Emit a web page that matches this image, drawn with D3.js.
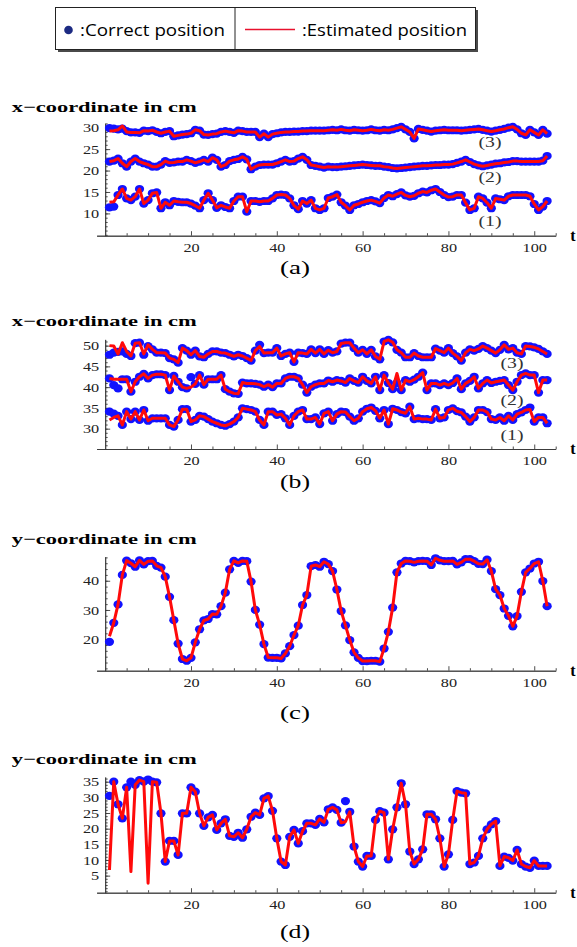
<!DOCTYPE html>
<html>
<head>
<meta charset="utf-8">
<script src="https://cdn.jsdelivr.net/npm/d3@7"></script>
<style>
  body { margin: 0; background: #fff; }
  svg { display: block; }
</style>
</head>
<body>
<svg id="chart" width="577" height="947"></svg>
<script>

// ---- data (t = 1..103) ----
var steps = d3.range(1, 104);
var xTicks = [20, 40, 60, 80, 100];
var xMinorTicks = [5, 10, 15, 25, 30, 35, 45, 50, 55, 65, 70, 75, 85, 90, 95, 105];
var legendLabels = [":Correct position", ":Estimated position"];
var curveLabels = ["(1)", "(2)", "(3)"];
var panelLabels = ["(a)", "(b)", "(c)", "(d)"];
var axisTitles = ["x\u2212coordinate in cm", "x\u2212coordinate in cm", "y\u2212coordinate in cm", "y\u2212coordinate in cm"];

// panel (a)
var a1Correct = [11.4,11.6,14.3,15.7,13.5,13.1,13.9,15.7,12.3,13.1,14.7,14.9,11.2,12.6,11.9,12.9,12.7,12.6,12.6,12.3,11.8,11.2,13.1,14.7,13.1,11.3,11.9,11.5,11.2,12.9,13.9,13.9,10.4,12.9,12.9,12.7,12.9,12.9,13.5,14.3,14.4,14.3,13.5,11.9,11.0,12.9,12.3,13.1,11.2,10.8,11.2,13.6,13.9,14.4,12.6,11.8,10.8,11.9,12.2,12.6,12.9,13.1,12.8,12.4,13.6,14.3,14.0,14.5,14.9,14.2,13.9,14.1,14.7,15.1,14.9,15.4,15.7,15.0,14.3,13.8,13.9,14.3,14.3,12.5,10.8,11.2,13.9,13.5,12.5,11.2,13.5,13.3,13.1,14.0,14.3,14.3,14.3,14.3,14.0,12.2,10.8,11.6,12.9];
var a1Estimated = [12.6,12.7,14.3,15.7,13.5,13.1,13.9,15.7,12.3,13.1,14.7,14.9,11.2,12.6,11.9,12.9,12.7,12.6,12.6,12.3,11.8,11.2,13.1,14.7,13.1,11.3,11.9,11.5,11.2,12.9,13.9,13.9,10.4,12.9,12.9,12.7,12.9,12.9,13.5,14.3,14.4,14.3,13.5,11.9,11.0,12.9,12.3,13.1,11.2,10.8,11.2,13.6,13.9,14.4,12.6,11.8,10.8,11.9,12.2,12.6,12.9,13.1,12.8,12.4,13.6,14.3,14.0,14.5,14.9,14.2,13.9,14.1,14.7,15.1,14.9,15.4,15.7,15.0,14.3,13.8,13.9,14.3,14.3,12.5,10.8,11.2,13.9,13.5,12.5,11.2,13.5,13.3,13.1,14.0,14.3,14.3,14.3,14.3,14.0,12.2,10.8,11.6,12.9];
var a2Correct = [22.1,22.3,22.8,21.7,20.9,22.1,22.8,22.1,21.7,21.4,20.9,20.9,21.4,22.2,21.8,21.9,22.1,22.1,22.5,22.2,21.8,22.1,22.5,22.1,23.0,22.5,20.9,21.3,22.2,22.5,22.7,23.2,22.6,20.3,20.9,21.3,21.4,21.4,21.4,21.7,22.1,22.5,22.1,22.2,22.8,23.2,22.5,21.3,21.1,20.9,20.7,20.9,20.8,20.8,20.9,21.0,21.1,21.2,21.3,21.4,21.3,21.2,21.1,21.1,20.9,20.8,20.6,20.5,20.6,20.7,20.8,20.9,21.0,21.1,21.1,21.2,21.3,21.3,21.4,21.4,21.5,21.8,22.1,22.5,22.0,21.5,21.2,21.0,21.2,21.4,21.6,21.7,21.9,22.0,22.2,22.2,22.1,22.1,22.1,22.1,22.1,22.3,23.4];
var a2Estimated = [22.1,22.3,22.8,21.7,20.9,22.1,22.8,22.1,21.7,21.4,20.9,20.9,21.4,22.2,21.8,21.9,22.1,22.1,22.5,22.2,21.8,22.1,22.5,22.1,23.0,22.5,20.9,21.3,22.2,22.5,22.7,23.2,22.6,20.3,20.9,21.3,21.4,21.4,21.4,21.7,22.1,22.5,22.1,22.2,22.8,23.2,22.5,21.3,21.1,20.9,20.7,20.9,20.8,20.8,20.9,21.0,21.1,21.2,21.3,21.4,21.3,21.2,21.1,21.1,20.9,20.8,20.6,20.5,20.6,20.7,20.8,20.9,21.0,21.1,21.1,21.2,21.3,21.3,21.4,21.4,21.5,21.8,22.1,22.5,22.0,21.5,21.2,21.0,21.2,21.4,21.6,21.7,21.9,22.0,22.2,22.2,22.1,22.1,22.1,22.1,22.1,22.3,23.4];
var a3Correct = [29.9,29.8,29.6,29.8,29.2,28.9,28.9,28.8,29.3,29.2,29.4,29.0,28.7,29.0,29.2,28.0,28.2,28.4,28.5,28.7,29.5,29.3,28.4,28.3,28.5,28.6,29.0,29.2,29.0,28.8,29.3,29.2,29.0,29.0,29.0,27.8,28.6,27.8,28.5,28.7,28.9,29.0,29.0,29.1,29.1,29.2,29.2,29.3,29.3,29.3,29.3,29.4,29.5,29.4,29.6,29.4,29.3,29.5,29.4,29.3,29.4,29.6,29.4,29.3,29.5,29.4,29.6,29.9,30.2,29.6,29.0,27.5,29.7,29.5,29.3,29.1,29.3,29.4,29.5,29.4,29.4,29.4,29.3,29.4,29.5,29.6,29.7,29.5,29.3,29.1,29.3,29.5,29.7,30.0,30.2,29.6,28.7,28.3,29.5,28.9,28.3,29.5,28.6];
var a3Estimated = [29.2,29.3,29.5,30.4,29.0,28.9,28.9,28.8,29.3,29.2,29.4,29.0,28.7,29.0,29.2,28.0,28.2,28.4,28.5,28.7,29.5,29.3,28.4,28.3,28.5,28.6,29.0,29.2,29.0,28.8,29.3,29.2,29.0,29.0,29.0,27.8,28.6,27.8,28.5,28.7,28.9,29.0,29.0,29.1,29.1,29.2,29.2,29.3,29.3,29.3,29.3,29.4,29.5,29.4,29.6,29.4,29.3,29.5,29.4,29.3,29.4,29.6,29.4,29.3,29.5,29.4,29.6,29.9,30.2,29.6,29.0,27.5,29.7,29.5,29.3,29.1,29.3,29.4,29.5,29.4,29.4,29.4,29.3,29.4,29.5,29.6,29.7,29.5,29.3,29.1,29.3,29.5,29.7,30.0,30.2,29.6,28.7,28.3,29.5,28.9,28.3,29.5,28.6];

// panel (b)
var b1Correct = [34.1,33.6,33.1,30.9,34.1,32.3,34.1,32.1,34.5,31.9,32.5,32.5,32.5,32.5,30.9,30.5,32.1,34.7,34.7,31.7,32.1,33.1,32.9,32.3,31.7,31.3,30.9,30.7,31.1,31.7,32.7,34.9,34.7,34.5,34.1,32.1,30.9,34.1,34.1,33.3,33.5,32.5,30.9,33.1,34.1,34.5,32.3,32.3,32.7,31.1,33.7,34.1,31.9,33.5,34.1,34.0,32.9,31.9,32.5,34.1,34.8,35.1,34.3,32.5,34.5,31.1,34.8,34.5,34.0,33.7,35.3,32.3,32.5,32.3,32.3,32.1,34.7,32.5,32.7,34.5,34.9,34.2,33.9,32.9,31.7,32.7,34.5,34.5,34.0,32.3,32.1,32.7,31.9,33.1,32.1,33.5,33.9,34.5,35.1,31.7,32.7,32.7,31.3];
var b1Estimated = [32.1,32.7,33.1,30.9,34.1,32.3,34.1,32.1,34.5,31.9,32.5,32.5,32.5,32.5,30.9,30.5,32.1,34.7,34.7,31.7,32.1,33.1,32.9,32.3,31.7,31.3,30.9,30.7,31.1,31.7,32.7,34.9,34.7,34.5,34.1,32.1,30.9,34.1,34.1,33.3,33.5,32.5,30.9,33.1,34.1,34.5,32.3,32.3,32.7,31.1,33.7,34.1,31.9,33.5,34.1,34.0,32.9,31.9,32.5,34.1,34.8,35.1,34.3,32.5,34.5,31.1,34.8,34.5,34.0,33.7,35.3,32.3,32.5,32.3,32.3,32.1,34.7,32.5,32.7,34.5,34.9,34.2,33.9,32.9,31.7,32.7,34.5,34.5,34.0,32.3,32.1,32.7,31.9,33.1,32.1,33.5,33.9,34.5,34.6,31.7,32.7,32.7,31.3];
var b2Correct = [42.1,40.5,39.7,41.9,41.9,38.9,41.3,42.5,43.2,42.1,42.9,43.1,43.1,42.9,39.3,42.7,41.3,40.0,39.7,42.4,40.8,42.9,40.6,41.9,41.9,41.9,42.9,39.5,38.9,38.5,38.4,41.1,40.9,40.9,40.8,40.6,40.1,40.6,40.0,40.9,40.9,42.1,42.5,42.5,42.1,40.6,38.7,40.1,40.6,40.9,40.9,41.6,41.3,41.7,41.5,41.1,42.1,41.5,41.1,42.5,41.5,40.9,42.5,39.3,42.9,41.0,39.5,41.0,39.3,41.7,41.3,41.8,42.5,43.5,39.3,40.9,40.9,40.5,40.9,40.5,41.0,42.1,39.5,40.9,41.5,42.5,39.7,40.9,41.7,41.0,41.3,41.5,41.7,40.5,39.3,41.3,42.9,43.3,42.9,42.9,38.7,41.7,41.7];
var b2Estimated = [42.1,41.9,41.9,41.9,41.9,38.9,41.3,42.5,43.2,42.1,42.9,43.1,43.1,42.9,39.3,42.7,41.3,40.0,39.7,40.0,40.8,42.9,40.6,41.9,41.9,41.9,42.9,39.5,38.9,38.5,38.4,41.1,40.9,40.9,40.8,40.6,40.1,40.6,40.0,40.9,40.9,42.1,42.5,42.5,42.1,40.6,38.7,40.1,40.6,40.9,40.9,41.6,41.3,41.7,41.5,41.1,42.1,41.5,41.1,42.5,41.5,40.9,42.5,39.3,42.9,41.0,39.5,43.3,39.3,41.7,41.3,41.8,42.5,43.5,39.3,40.9,40.9,40.5,40.9,40.5,41.0,42.1,39.5,40.9,41.5,42.5,39.7,40.9,41.7,41.0,41.3,41.5,41.7,40.5,39.3,41.3,42.9,43.3,42.9,42.9,38.7,41.7,41.7];
var b3Correct = [47.8,48.3,48.5,48.6,48.0,47.5,50.6,50.7,47.8,49.9,49.1,48.3,48.3,48.2,47.0,46.7,45.9,49.4,48.8,47.8,48.8,47.4,47.2,48.0,48.6,48.6,48.3,48.2,47.8,47.4,47.8,47.5,47.0,46.4,48.8,50.2,48.2,48.3,48.3,49.4,47.5,48.0,48.3,46.1,48.3,48.2,48.0,49.1,48.2,49.1,48.0,48.9,48.3,48.6,50.5,50.7,50.7,49.4,48.3,49.0,48.0,49.0,47.4,46.7,51.0,51.4,50.8,49.0,48.3,47.2,47.2,48.2,47.5,47.2,47.2,47.2,49.3,48.8,48.3,49.4,48.2,47.4,46.4,48.3,49.1,48.8,49.2,49.9,49.4,48.8,48.2,49.0,50.2,49.1,49.4,48.3,48.0,49.9,49.8,49.6,49.2,48.6,48.0];
var b3Estimated = [50.0,49.9,48.0,50.7,48.6,47.5,50.6,50.7,48.0,50.2,49.1,48.3,48.3,48.2,47.0,46.7,45.9,49.4,48.8,47.8,48.8,47.4,47.2,48.0,48.6,48.6,48.3,48.2,47.8,47.4,47.8,47.5,47.0,46.4,48.8,49.8,48.2,48.3,48.3,49.4,47.5,48.0,48.3,46.1,48.3,48.2,48.0,49.1,48.2,49.1,48.0,48.9,48.3,48.6,50.5,50.7,50.7,49.4,48.3,49.0,48.0,49.0,47.4,46.7,51.0,51.4,50.8,49.0,48.3,47.2,47.2,48.2,47.5,47.2,47.2,47.2,49.3,48.8,48.3,49.4,48.2,47.4,46.4,48.3,49.1,48.8,49.2,49.9,49.4,48.8,48.2,49.0,50.2,49.1,49.4,48.3,48.0,49.9,49.8,49.6,49.2,48.6,48.0];

// panel (c)
var cCorrect = [19.1,25.6,31.9,42.0,46.9,46.0,44.8,47.0,45.6,46.7,46.8,45.1,44.5,41.4,34.5,26.5,18.5,13.2,12.6,13.6,18.9,23.4,26.4,26.9,28.6,28.5,31.3,35.9,43.9,46.8,46.1,46.8,46.7,39.7,30.0,25.0,18.3,13.7,13.6,13.6,13.4,15.1,17.6,21.4,24.6,31.7,35.1,45.0,45.4,44.8,46.5,45.7,43.3,37.0,29.6,24.7,19.7,15.5,13.6,12.5,12.5,12.6,12.6,12.3,16.8,22.5,30.8,42.9,45.9,46.8,46.7,46.3,46.7,46.8,46.7,45.4,47.7,47.0,46.7,46.7,46.8,45.6,46.3,47.4,47.4,46.7,45.8,45.7,47.2,43.3,37.1,35.1,30.5,28.0,24.4,27.9,36.2,42.9,44.2,45.9,46.5,39.9,31.3];
var cEstimated = [21.0,25.6,31.9,42.0,46.9,46.0,44.8,47.0,45.6,46.7,46.8,45.1,44.5,41.4,34.5,26.5,18.5,13.2,12.6,13.6,18.9,23.4,26.4,26.9,28.6,28.5,31.3,35.9,43.9,46.8,46.1,46.8,46.7,39.7,30.0,25.0,18.3,13.7,13.6,13.6,13.4,15.1,17.6,21.4,24.6,31.7,35.1,45.0,45.4,44.8,46.5,45.7,43.3,37.0,29.6,24.7,19.7,15.5,13.6,12.5,12.5,12.6,12.6,12.3,16.8,22.5,30.8,42.9,45.9,46.8,46.7,46.3,46.7,46.8,46.7,45.4,47.7,47.0,46.7,46.7,46.8,45.6,46.3,47.4,47.4,46.7,45.8,45.7,47.2,43.3,37.1,35.1,30.5,28.0,24.4,27.9,36.2,42.9,44.2,45.9,46.5,39.9,31.3];

// panel (d)
var dCorrect = [30.5,35.0,27.8,23.3,33.2,35.0,34.0,35.5,35.0,35.7,35.0,34.8,24.9,9.5,16.1,16.1,11.6,24.9,24.9,33.2,31.8,24.9,20.9,23.6,24.4,19.6,21.7,23.0,17.7,17.4,18.7,17.1,19.8,23.8,25.1,24.4,29.7,30.4,25.7,16.9,9.5,8.4,17.4,19.6,15.3,19.2,21.7,21.7,21.2,23.1,22.0,26.2,26.8,26.0,21.9,28.8,25.4,14.3,9.5,7.9,11.3,11.3,22.8,25.6,25.1,10.2,19.8,26.8,34.5,27.8,12.7,8.7,10.2,13.4,24.6,24.6,23.0,16.9,7.9,11.8,22.8,32.0,31.5,31.3,8.7,9.2,11.3,16.9,19.8,21.4,22.4,8.1,11.1,10.7,9.8,13.2,8.7,7.9,7.5,9.8,8.1,8.1,8.1];
var dEstimated = [6.8,35.0,27.8,23.3,33.2,6.3,34.0,35.5,35.0,2.6,35.0,34.8,24.9,9.5,16.1,16.1,11.6,24.9,24.9,33.2,31.8,24.9,20.9,23.6,24.4,19.6,21.7,23.0,17.7,17.4,18.7,17.1,19.8,23.8,25.1,24.4,29.7,30.4,25.7,16.9,9.5,8.4,17.4,19.6,15.3,19.2,21.7,21.7,21.2,23.1,22.0,26.2,26.8,26.0,21.9,22.2,25.4,14.3,9.5,7.9,11.3,11.3,22.8,25.6,25.1,10.2,19.8,26.8,34.5,27.8,12.7,8.7,10.2,13.4,24.6,24.6,23.0,16.9,7.9,11.8,22.8,32.0,31.5,31.3,8.7,9.2,11.3,16.9,19.8,21.4,22.4,8.1,11.1,10.7,9.8,13.2,8.7,7.9,7.5,9.8,8.1,8.1,8.1];

// ---- layout ----
var dotColor = "#1212ff",
    lineColor = "#ff0a0a",
    serif = "'Liberation Serif', 'Times New Roman', serif",
    textStretch = 1.25;

var panels = [
  { yDomain: [4.8, 31], yRange: [235.7, 123.4], yLabels: [10, 15, 20, 25, 30], yMinor: d3.range(5, 31.1, 1),
    titleY: 111.7, labelY: 274,
    series: [[a1Correct, a1Estimated], [a2Correct, a2Estimated], [a3Correct, a3Estimated]],
    curveTags: [[490, 226], [490, 182], [490, 147]] },
  { yDomain: [25.1, 51.5], yRange: [449, 339.4], yLabels: [30, 35, 40, 45, 50], yMinor: d3.range(26, 51.1, 1),
    titleY: 325.7, labelY: 488,
    series: [[b1Correct, b1Estimated], [b2Correct, b2Estimated], [b3Correct, b3Estimated]],
    curveTags: [[512, 440], [512, 405], [512, 368]] },
  { yDomain: [9.2, 48.2], yRange: [670.7, 556.8], yLabels: [20, 30, 40], yMinor: d3.range(10, 48.1, 2),
    titleY: 544, labelY: 719,
    series: [[cCorrect, cEstimated]], curveTags: [] },
  { yDomain: [-0.45, 36.5], yRange: [892.7, 777], yLabels: [5, 10, 15, 20, 25, 30, 35], yMinor: d3.range(0, 36.1, 1),
    titleY: 764, labelY: 938,
    series: [[dCorrect, dEstimated]], curveTags: [] }
];

var svg = d3.select("#chart");
var x = d3.scaleLinear().domain([-2, 105]).range([96.6, 555.7]);

// widen text horizontally like the source figure
function stretchText(sel) {
  sel.each(function() {
    var t = d3.select(this);
    var tx = +t.attr("x") || 0;
    t.attr("x", tx / textStretch).attr("transform", "scale(" + textStretch + ",1)");
  });
}

function drawPanel(p, k) {
  var y = d3.scaleLinear().domain(p.yDomain).range(p.yRange);
  var g = svg.append("g");
  var axisY = p.yRange[0];

  // x axis: minor then major ticks, pointing up into the plot
  var xMinor = g.append("g").attr("transform", "translate(0," + axisY + ")")
    .call(d3.axisBottom(x).tickValues(xMinorTicks).tickSize(-2.5).tickSizeOuter(0).tickFormat(""));
  var xMajor = g.append("g").attr("transform", "translate(0," + axisY + ")")
    .call(d3.axisBottom(x).tickValues(xTicks).tickSize(-4.5).tickSizeOuter(0).tickPadding(7).tickFormat(d3.format("d")));
  xMajor.selectAll("text").call(stretchText);

  // y axis: minor then labelled major ticks, pointing right
  var yMinor = g.append("g").attr("transform", "translate(" + x(0) + ",0)")
    .call(d3.axisLeft(y).tickValues(p.yMinor).tickSize(-2.5).tickSizeOuter(0).tickFormat(""));
  var yMajor = g.append("g").attr("transform", "translate(" + x(0) + ",0)")
    .call(d3.axisLeft(y).tickValues(p.yLabels).tickSize(-5).tickSizeOuter(0).tickPadding(6).tickFormat(d3.format("d")));
  yMajor.selectAll("text").call(stretchText);

  [xMinor, xMajor, yMinor, yMajor].forEach(function(a) {
    a.selectAll("path, line").attr("stroke", "#3a3a3a").attr("stroke-width", 0.9);
    a.selectAll("text").attr("font-family", serif).attr("font-size", 13).attr("fill", "#222");
  });

  // axis title and "t"
  g.append("text").attr("x", 11.7).attr("y", p.titleY)
    .attr("font-family", serif).attr("font-weight", "bold").attr("font-size", 15)
    .attr("textLength", 185).attr("lengthAdjust", "spacingAndGlyphs")
    .text(axisTitles[k]);
  g.append("text").attr("x", 573).attr("y", axisY + 5).attr("text-anchor", "middle")
    .attr("font-family", serif).attr("font-weight", "bold").attr("font-size", 16)
    .text("t");

  // series: dots (correct) under red line (estimated)
  p.series.forEach(function(s) {
    g.append("g").selectAll("ellipse")
      .data(s[0])
      .enter()
      .append("ellipse")
        .attr("cx", function(d, i) { return x(steps[i]); })
        .attr("cy", function(d) { return y(d); })
        .attr("rx", 4.6)
        .attr("ry", 4.1)
        .attr("fill", dotColor);
    g.append("path")
      .datum(s[1])
      .attr("d", d3.line()
        .x(function(d, i) { return x(steps[i]); })
        .y(function(d) { return y(d); }))
      .attr("fill", "none")
      .attr("stroke", lineColor)
      .attr("stroke-width", 3)
      .attr("stroke-linejoin", "round");
  });

  p.curveTags.forEach(function(pos, i) {
    g.append("text").attr("x", pos[0]).attr("y", pos[1]).attr("text-anchor", "middle")
      .attr("font-family", serif).attr("font-size", 15).attr("fill", "#333")
      .attr("textLength", 23).attr("lengthAdjust", "spacingAndGlyphs")
      .text(curveLabels[i]);
  });

  g.append("text").attr("x", 295).attr("y", p.labelY).attr("text-anchor", "middle")
    .attr("font-family", serif).attr("font-size", 19)
    .attr("textLength", 30).attr("lengthAdjust", "spacingAndGlyphs")
    .text(panelLabels[k]);
}

panels.forEach(drawPanel);

// ---- legend ----
var legend = svg.append("g");
legend.append("rect").attr("x", 58).attr("y", 10).attr("width", 420).attr("height", 42).attr("fill", "#4a4a4a");
legend.append("rect").attr("x", 55.5).attr("y", 7.5).attr("width", 420).attr("height", 42)
  .attr("fill", "#fff").attr("stroke", "#222").attr("stroke-width", 1);
legend.append("line").attr("x1", 235).attr("x2", 235).attr("y1", 7.5).attr("y2", 49.5)
  .attr("stroke", "#222").attr("stroke-width", 1);
legend.append("circle").attr("cx", 68.5).attr("cy", 30).attr("r", 4.3).attr("fill", "#1c2a82");
legend.append("line").attr("x1", 245).attr("x2", 295).attr("y1", 29.5).attr("y2", 29.5)
  .attr("stroke", "#e8112d").attr("stroke-width", 1.6);
legend.append("text").attr("x", 80).attr("y", 35.5)
  .attr("font-family", "'Open Sans', 'Noto Sans', sans-serif").attr("font-size", 16.5)
  .attr("textLength", 145).attr("lengthAdjust", "spacingAndGlyphs")
  .text(legendLabels[0]);
legend.append("text").attr("x", 302).attr("y", 35.5)
  .attr("font-family", "'Open Sans', 'Noto Sans', sans-serif").attr("font-size", 16.5)
  .attr("textLength", 165).attr("lengthAdjust", "spacingAndGlyphs")
  .text(legendLabels[1]);

</script>
</body>
</html>
